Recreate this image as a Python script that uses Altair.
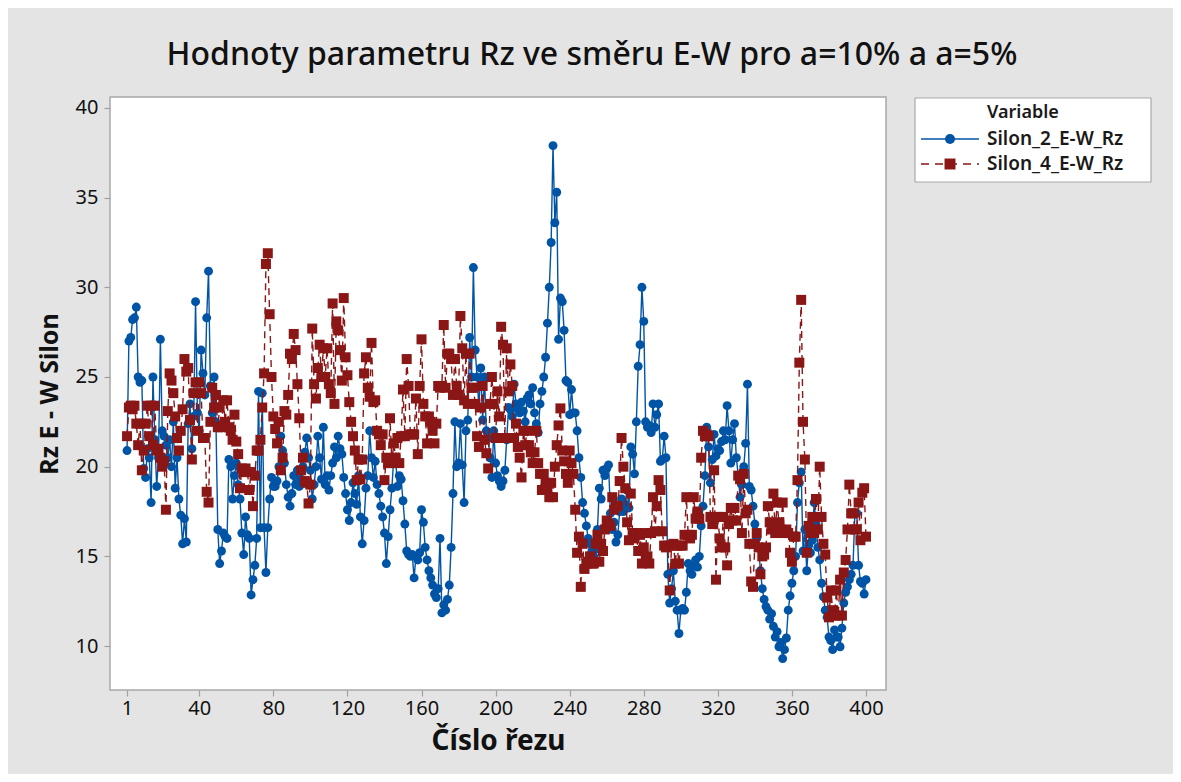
import altair as alt
import pandas as pd

# ---- data ----
cut_index = list(range(1, 401))

silon_2 = [
    20.9, 27.0, 27.2, 28.2, 28.3, 28.9, 25.0, 24.7, 24.8, 19.9,
    19.4, 21.0, 20.5, 18.0, 25.0, 21.5, 18.9, 20.5, 27.1, 22.0,
    21.7, 21.2, 20.5, 21.5, 20.0, 22.5, 18.8, 20.5, 18.2, 17.3,
    15.7, 17.1, 15.8, 22.4, 23.5, 21.0, 22.8, 29.2, 23.0, 22.0,
    26.5, 25.2, 24.0, 28.3, 30.9, 24.5, 23.0, 25.0, 22.5, 16.5,
    14.6, 15.3, 16.3, 16.1, 16.0, 20.4, 20.0, 18.2, 19.5, 20.2,
    19.0, 18.2, 16.3, 15.1, 17.2, 16.2, 16.0, 12.85, 13.7, 14.5,
    16.0, 24.2, 16.6, 24.1, 16.6, 14.1, 16.6, 18.2, 19.4, 18.9,
    18.9, 19.2, 20.0, 21.7, 20.9, 20.2, 19.0, 18.3, 17.8, 18.5,
    19.5, 19.0, 19.8, 18.9, 19.3, 20.0, 20.8, 21.6, 20.5, 19.8,
    18.2, 19.0, 20.0, 21.7, 20.5, 19.3, 22.2, 19.0, 19.5, 18.7,
    19.5, 20.2, 21.1, 20.5, 21.7, 21.0, 20.7, 19.4, 18.5, 17.6,
    17.0, 18.0, 19.1, 18.5, 17.9, 19.5, 17.2, 15.7, 17.0, 18.8,
    19.5, 22.0, 20.5, 19.4, 20.3, 19.0, 18.5, 17.8, 17.2, 16.3,
    14.6, 16.1, 17.6, 18.8, 20.5, 20.5, 18.9, 19.5, 19.3, 18.1,
    16.8, 15.3, 15.1, 15.0, 15.1, 13.8, 15.0, 14.8, 15.2, 17.6,
    16.9, 15.5, 14.8, 14.2, 13.8, 13.4, 12.9, 12.7, 13.2, 16.0,
    11.85, 12.3, 12.0, 12.6, 13.4, 15.5, 18.5, 22.5, 20.0, 20.2,
    22.4, 20.1, 18.0, 22.0, 22.6, 27.2, 25.0, 31.1, 26.5, 25.0,
    23.3, 25.5, 22.6, 25.0, 22.0, 21.6, 20.5, 19.4, 22.0, 20.2,
    19.5, 19.2, 18.9, 19.2, 19.8, 21.5, 23.3, 23.2, 22.8, 24.6,
    23.5, 23.2, 23.0, 23.6, 23.1, 22.5, 23.8, 24.0, 23.5, 24.4,
    23.0, 22.4, 21.9, 23.5, 24.2, 25.0, 26.1, 28.0, 30.0, 32.5,
    37.9, 33.6, 35.3, 27.1, 29.4, 29.2, 27.6, 24.8, 24.7, 22.9,
    24.3, 23.0, 23.0, 22.0, 20.5, 19.4, 18.0, 17.4, 16.7, 16.0,
    15.7, 15.3, 15.0, 15.4, 16.5, 18.8, 18.2, 19.8, 19.5, 19.9,
    20.1, 17.4, 16.5, 16.9, 15.8, 16.2, 17.5, 18.2, 17.5, 17.9,
    18.7, 17.7, 21.1, 20.7, 19.6, 22.5, 25.6, 26.8, 30.0, 28.1,
    22.5, 22.2, 22.3, 21.9, 23.5, 22.2, 22.9, 23.5, 20.3, 20.4,
    21.7, 20.5, 14.0, 12.4, 13.2, 14.2, 12.5, 12.0, 10.7, 12.0,
    12.1, 12.0, 13.0, 14.6, 14.2, 14.0, 14.5, 14.8, 14.4, 15.0,
    16.7, 17.8, 19.5, 22.2, 21.1, 19.1, 20.4, 21.8, 20.6, 21.0,
    20.9, 21.4, 22.0, 21.5, 23.4, 22.0, 20.2, 21.5, 22.4, 20.5,
    19.5, 18.3, 19.0, 20.0, 21.3, 24.6, 18.9, 18.7, 17.8, 16.8,
    16.0, 15.5, 14.2, 13.2, 12.6, 12.2, 12.0, 11.5, 11.8, 11.1,
    10.5, 10.8, 9.96, 10.2, 9.3, 9.8, 10.45, 12.0, 12.8, 13.5,
    14.2, 15.0, 18.0, 19.1, 19.7, 15.3, 16.5, 14.2, 15.6, 15.2,
    15.9, 18.0, 16.8, 15.5, 14.8, 13.5, 12.75, 12.0, 11.6, 10.5,
    10.3, 9.8, 10.9, 10.5, 10.5, 9.96, 11.0, 12.4, 13.0, 13.3,
    13.7, 14.0, 14.5, 17.4, 17.4, 14.5, 13.6, 13.5, 12.9, 13.7,
]

silon_4 = [
    21.7, 23.3, 23.4, 23.2, 23.4, 22.4, 21.2, 22.4, 19.8, 20.9,
    22.4, 23.4, 21.7, 23.4, 21.2, 23.4, 20.9, 21.0, 20.5, 20.0,
    20.3, 17.6, 23.1, 25.2, 24.8, 24.1, 22.8, 21.6, 20.9, 22.0,
    23.2, 26.0, 25.3, 25.5, 22.6, 20.4, 24.1, 24.7, 22.0, 24.7,
    24.1, 21.6, 21.6, 18.6, 18.0, 22.5, 24.4, 23.3, 24.0, 22.2,
    23.3, 22.2, 23.7, 22.5, 23.7, 22.2, 22.0, 21.5, 22.9, 21.4,
    20.7, 18.8, 19.9, 19.7, 19.9, 19.7, 18.7, 19.7, 17.8, 19.5,
    20.9, 20.9, 21.5, 23.3, 25.2, 31.3, 31.9, 28.5, 25.0, 22.8,
    22.1, 21.3, 22.5, 19.8, 20.5, 23.1, 22.9, 24.0, 26.3, 26.0,
    27.4, 26.5, 24.6, 22.7, 19.8, 20.5, 19.2, 19.1, 17.95, 19.0,
    27.7, 24.6, 23.8, 25.5, 26.8, 25.0, 26.6, 25.0, 26.6, 24.6,
    24.1, 29.1, 23.5, 28.1, 27.6, 26.5, 24.8, 29.4, 26.1, 25.1,
    23.6, 22.5, 21.7, 20.9, 19.25, 20.4, 19.3, 20.4, 25.2, 26.1,
    24.4, 23.9, 26.9, 23.6, 23.7, 22.0, 21.8, 21.2, 21.8, 19.25,
    20.5, 20.2, 22.7, 20.2, 21.3, 20.5, 21.6, 20.2, 21.7, 24.3,
    21.7, 26.0, 24.5, 21.8, 21.8, 21.8, 23.8, 20.7, 24.5, 27.1,
    23.5, 22.8, 21.3, 22.8, 22.5, 22.0, 21.3, 22.4, 24.5, 24.4,
    24.5, 27.9, 24.4, 26.3, 26.3, 26.0, 24.0, 26.0, 24.5, 24.0,
    28.4, 26.6, 23.7, 26.3, 23.5, 26.3, 24.4, 24.4, 23.5, 21.7,
    21.1, 23.3, 24.5, 21.5, 20.75, 19.9, 23.5, 25.0, 23.5, 21.6,
    24.2, 22.8, 27.8, 26.8, 21.6, 26.6, 24.2, 25.7, 24.5, 21.6,
    22.4, 21.1, 20.5, 19.4, 22.0, 21.2, 22.0, 21.2, 20.8, 20.2,
    20.8, 22.0, 20.2, 19.6, 18.7, 19.6, 19.1, 18.7, 18.3, 19.1,
    18.3, 20.0, 21.2, 22.3, 23.25, 20.9, 20.3, 19.6, 19.1, 20.9,
    20.2, 19.6, 17.6, 15.2, 16.1, 13.3, 15.7, 14.3, 14.6, 14.7,
    15.0, 14.6, 14.6, 15.7, 16.2, 14.7, 15.7, 15.3, 16.5, 17.0,
    16.8, 16.7, 18.3, 17.6, 17.8, 17.8, 19.2, 21.6, 20.0, 18.8,
    16.9, 15.9, 18.5, 16.3, 16.0, 16.3, 15.3, 16.2, 14.6, 15.5,
    16.3, 15.0, 14.6, 16.3, 18.3, 16.4, 17.8, 19.25, 18.7, 16.4,
    15.6, 15.5, 15.6, 13.1, 15.6, 15.7, 14.6, 15.6, 14.6, 15.6,
    15.6, 16.2, 18.3, 16.2, 16.0, 16.2, 18.3, 17.1, 17.5, 17.1,
    20.5, 22.0, 21.7, 21.8, 21.7, 17.2, 16.8, 19.8, 13.7, 17.2,
    16.0, 15.5, 17.2, 15.5, 14.5, 16.8, 17.7, 17.0, 17.7, 17.0,
    19.5, 19.3, 16.3, 19.6, 17.4, 17.6, 15.7, 13.6, 13.3, 15.7,
    16.3, 15.5, 14.0, 15.0, 15.1, 15.5, 17.8, 16.9, 16.5, 18.5,
    16.3, 18.0, 16.9, 16.5, 18.0, 16.3, 16.5, 16.3, 15.2, 14.7,
    16.1, 16.1, 19.25, 25.8, 29.3, 22.5, 20.4, 15.2, 16.7, 16.3,
    17.2, 16.3, 18.2, 16.5, 20.0, 17.2, 15.7, 15.1, 12.7, 11.6,
    13.1, 12.0, 11.7, 13.1, 11.7, 13.7, 11.7, 14.1, 14.8, 16.5,
    19.0, 17.4, 17.4, 16.5, 16.5, 18.0, 15.9, 18.55, 18.8, 16.1,
]

series_names = ["Silon_2_E-W_Rz", "Silon_4_E-W_Rz"]
series_colors = ["#0054a6", "#8b1616"]
legend_title = "Variable"
x_ticks = [1, 40, 80, 120, 160, 200, 240, 280, 320, 360, 400]
y_ticks = [10, 15, 20, 25, 30, 35, 40]

title_text = "Hodnoty parametru Rz ve směru E-W pro a=10% a a=5%"
x_title = "Číslo řezu"
y_title = "Rz E - W Silon"

FONT = "Noto Sans"

df2 = pd.DataFrame({"i": cut_index, "v": silon_2})
df4 = pd.DataFrame({"i": cut_index, "v": silon_4})

x_scale = alt.Scale(domain=[-8.2, 410.8], nice=False, zero=False)
y_scale = alt.Scale(domain=[7.55, 40.61], nice=False, zero=False)

x_enc = alt.X("i:Q", scale=x_scale,
              axis=alt.Axis(values=x_ticks, title=x_title, labelFlush=False,
                            titleFontSize=28, titlePadding=9))
y_enc = alt.Y("v:Q", scale=y_scale,
              axis=alt.Axis(values=y_ticks, title=y_title, titleFontSize=25,
                            titlePadding=13))

line2 = alt.Chart(df2).mark_line(color=series_colors[0], strokeWidth=1.4).encode(x=x_enc, y=y_enc)
pts2 = alt.Chart(df2).mark_point(shape="circle", filled=True, size=80, opacity=1,
                                 color=series_colors[0]).encode(x=x_enc, y=y_enc)
line4 = alt.Chart(df4).mark_line(color=series_colors[1], strokeWidth=1.4,
                                 strokeDash=[7, 5]).encode(x=x_enc, y=y_enc)
pts4 = alt.Chart(df4).mark_point(shape="square", filled=True, size=100, opacity=1,
                                 color=series_colors[1]).encode(x=x_enc, y=y_enc)

# ---- legend box (drawn by hand, outside the plot frame) ----
leg_df = pd.DataFrame({"t": [legend_title]})
leg_box = alt.Chart(leg_df).mark_rect(fill="white", stroke="#a8a8a8", strokeWidth=1.2).encode(
    x=alt.value(805), x2=alt.value(1041), y=alt.value(1), y2=alt.value(85))
leg_title = alt.Chart(leg_df).mark_text(align="left", baseline="middle", font=FONT,
                                        fontSize=18, fontWeight=600, color="#1a1a1a").encode(
    x=alt.value(877), y=alt.value(16), text="t:N")

name2 = pd.DataFrame({"t": [series_names[0]]})
name4 = pd.DataFrame({"t": [series_names[1]]})
leg_line2 = alt.Chart(name2).mark_rule(color=series_colors[0], strokeWidth=1.4).encode(
    x=alt.value(811), x2=alt.value(869), y=alt.value(42))
leg_pt2 = alt.Chart(name2).mark_point(shape="circle", filled=True, size=100, opacity=1,
                                      color=series_colors[0]).encode(x=alt.value(840), y=alt.value(42))
leg_txt2 = alt.Chart(name2).mark_text(align="left", baseline="middle", font=FONT, fontSize=19,
                                      fontWeight=600, color="#1a1a1a").encode(
    x=alt.value(877), y=alt.value(42), text="t:N")
leg_line4 = alt.Chart(name4).mark_rule(color=series_colors[1], strokeWidth=1.4,
                                       strokeDash=[8, 6]).encode(
    x=alt.value(811), x2=alt.value(869), y=alt.value(67))
leg_pt4 = alt.Chart(name4).mark_point(shape="square", filled=True, size=120, opacity=1,
                                      color=series_colors[1]).encode(x=alt.value(840), y=alt.value(67))
leg_txt4 = alt.Chart(name4).mark_text(align="left", baseline="middle", font=FONT, fontSize=19,
                                      fontWeight=600, color="#1a1a1a").encode(
    x=alt.value(877), y=alt.value(67), text="t:N")

chart = alt.layer(
    line2, pts2, line4, pts4,
    leg_box, leg_title, leg_line2, leg_pt2, leg_txt2, leg_line4, leg_pt4, leg_txt4,
).properties(
    width=776,
    height=593,
    title=alt.TitleParams(title_text, anchor="middle", frame="group", dx=94,
                          baseline="alphabetic", offset=0, font=FONT, fontSize=32,
                          fontWeight=500, color="#111111"),
    autosize=alt.AutoSizeParams(type="none"),
    padding={"left": 102, "top": 89, "right": 287, "bottom": 84},
    background="#e4e4e4",
).configure_view(
    fill="white", stroke="#a8a8a8", strokeWidth=1.5,
).configure_axis(
    grid=False, domain=False, tickColor="#a0a0a0", tickSize=6, tickWidth=1.2,
    labelFont=FONT, labelFontSize=20, labelColor="#111111",
    titleFont=FONT, titleFontWeight="bold", titleColor="#111111",
).configure_axisX(
    labelPadding=2,
).configure_axisY(
    labelPadding=6,
)

assert len(silon_2) == 400 and len(silon_4) == 400

chart.save("out.html", embed_options={"renderer": "svg", "actions": False})
